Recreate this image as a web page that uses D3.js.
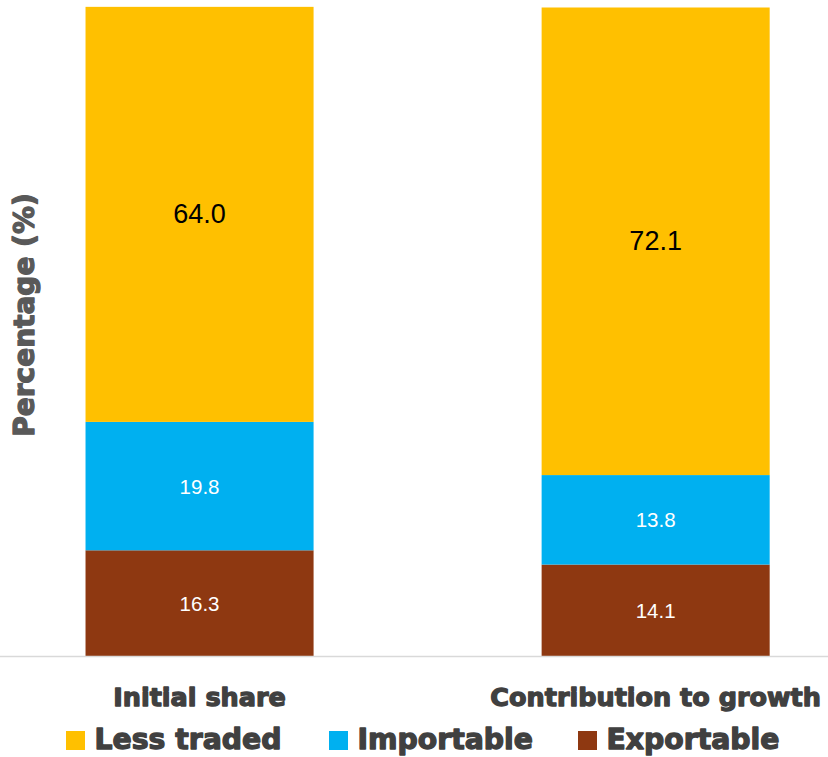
<!DOCTYPE html>
<html>
<head>
<meta charset="utf-8">
<script src="https://cdn.jsdelivr.net/npm/d3@7/dist/d3.min.js"></script>
<style>
  html, body { margin: 0; padding: 0; background: #fff; }
  svg { display: block; }
</style>
</head>
<body>
<script>
// Categories and stacked series (percent of total)
const categories = ["Initial share", "Contribution to growth"];
const seriesNames = ["Exportable", "Importable", "Less traded"];
const exportable = [16.3, 14.1];
const importable = [19.8, 13.8];
const lessTraded = [64.0, 72.1];
const legendOrder = ["Less traded", "Importable", "Exportable"];

const colors = { "Less traded": "#FFC000", "Importable": "#00B0F0", "Exportable": "#8E3811" };
const labelColors = { "Less traded": "#000000", "Importable": "#ffffff", "Exportable": "#ffffff" };
const labelSizes = { "Less traded": 27, "Importable": 20.5, "Exportable": 20.5 };

const W = 828, H = 757;
const svg = d3.select("body").append("svg").attr("width", W).attr("height", H);

const rows = categories.map((c, i) => ({
  category: c,
  "Exportable": exportable[i],
  "Importable": importable[i],
  "Less traded": lessTraded[i]
}));
const stacked = d3.stack().keys(seriesNames)(rows);

const x = d3.scaleBand().domain(categories)
  .range([-28.5, 883.7]).paddingInner(0.5).paddingOuter(0.25);
const y = d3.scaleLinear().domain([0, 100]).range([656, 7.5]);

// Stacked bars
const layer = svg.selectAll("g.layer").data(stacked).join("g")
  .attr("class", "layer").attr("fill", d => colors[d.key]);
layer.selectAll("rect").data(d => d.map(p => ({ key: d.key, p }))).join("rect")
  .attr("x", d => x(d.p.data.category))
  .attr("width", x.bandwidth())
  .attr("y", d => y(d.p[1]))
  .attr("height", d => y(d.p[0]) - y(d.p[1]));

// Segment value labels
layer.selectAll("text").data(d => d.map(p => ({ key: d.key, p }))).join("text")
  .attr("x", d => x(d.p.data.category) + x.bandwidth() / 2)
  .attr("y", d => (y(d.p[0]) + y(d.p[1])) / 2)
  .attr("text-anchor", "middle")
  .attr("dominant-baseline", "central")
  .attr("font-family", "'Liberation Sans', Arial, sans-serif")
  .attr("font-size", d => labelSizes[d.key])
  .attr("fill", d => labelColors[d.key])
  .text(d => (d.p[1] - d.p[0]).toFixed(1));

// Baseline
svg.append("line")
  .attr("x1", 0).attr("x2", W)
  .attr("y1", 656.5).attr("y2", 656.5)
  .attr("stroke", "#D9D9D9").attr("stroke-width", 1.6);

const heavy = sel => sel
  .attr("font-family", "'DejaVu Sans', sans-serif")
  .attr("font-weight", "bold")
  .attr("paint-order", "stroke")
  .attr("stroke-linejoin", "round");

// Category axis labels
const xAxis = svg.append("g").attr("transform", "translate(0,706)")
  .call(d3.axisBottom(x).tickSize(0).tickPadding(0));
xAxis.select(".domain").remove();
xAxis.selectAll("text")
  .attr("dy", null).attr("y", 0)
  .call(heavy)
  .attr("font-size", 25.5)
  .attr("fill", "#404040").attr("stroke", "#404040").attr("stroke-width", 1.3);

// Y axis title
svg.append("text")
  .attr("transform", "translate(34,315) rotate(-90)")
  .attr("text-anchor", "middle")
  .call(heavy)
  .attr("font-size", 28)
  .attr("fill", "#595959").attr("stroke", "#595959").attr("stroke-width", 1.3)
  .text("Percentage (%)");

// Legend
const legendX = [66, 329, 578];
const legend = svg.selectAll("g.legend").data(legendOrder).join("g")
  .attr("class", "legend")
  .attr("transform", (d, i) => `translate(${legendX[i]},731)`);
legend.append("rect").attr("width", 19).attr("height", 19).attr("fill", d => colors[d]);
legend.append("text")
  .attr("x", 28.5).attr("y", 18)
  .call(heavy)
  .attr("font-size", 28.3)
  .attr("fill", "#404040").attr("stroke", "#404040").attr("stroke-width", 1.3)
  .text(d => d);
</script>
</body>
</html>
